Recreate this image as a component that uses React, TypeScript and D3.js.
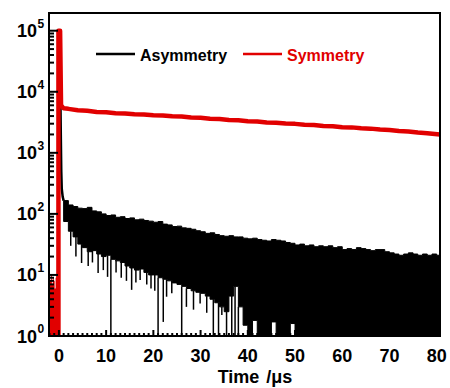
import React, { useEffect, useRef } from "react";
import * as d3 from "d3";

// layout
const width = 450;
const height = 388;
const plot = { left: 49, right: 440, top: 13, bottom: 336 };
const font = "'Liberation Sans', Arial, sans-serif";
const red = "#e10000";

// axes
const xTicks = [0, 10, 20, 30, 40, 50, 60, 70, 80];
const yExponents = [0, 1, 2, 3, 4, 5];

// Symmetry: noise before the pulse, the pulse, then the slow decay
const symPreTime = [-2.1, -1.9, -1.7, -1.5, -1.3, -1.1, -0.9, -0.7, -0.5, -0.3, -0.1];
const symPreCounts = [5, 8, 10, 7, 9, 8, 6, 9, 10, 8, 8];
const symPeakTime = [-0.1, -0.1, 0.25, 0.45];
const symPeakCounts = [1, 100000, 100000, 6000];
const symTime = [
  0.45, 1, 2, 4, 6, 8, 10, 12, 14, 16, 18, 20, 22, 24, 26, 28, 30, 32, 34, 36, 38,
  40, 42, 44, 46, 48, 50, 52, 54, 56, 58, 60, 62, 64, 66, 68, 70, 72, 74, 76, 78, 80.7,
];
const symCounts = [
  6000, 5350, 5250, 4980, 4880, 4680, 4620, 4460, 4400, 4280, 4240, 4130, 4100, 3960,
  3920, 3780, 3740, 3600, 3570, 3440, 3410, 3290, 3270, 3150, 3120, 3010, 2980, 2880,
  2850, 2750, 2730, 2630, 2610, 2520, 2490, 2400, 2360, 2270, 2240, 2150, 2100, 1990,
];

// Asymmetry: fast decay, then per-microsecond envelope of the noisy tail
const asymPeakTime = [-0.15, -0.1, 0.3, 0.4, 0.5, 0.6, 0.8, 1.0];
const asymPeakCounts = [1, 100000, 10000, 2000, 500, 260, 190, 165];
const asymUpper = [
  165, 140, 132, 124, 122, 128, 112, 108, 100, 94,
  96, 88, 90, 84, 86, 80, 82, 78, 76, 73,
  75, 68, 66, 62, 63, 59, 58, 56, 53, 51,
  48, 49, 46, 44, 43, 44, 42, 42, 40, 39,
  40, 38, 37, 36, 38, 37, 36, 34, 33, 31,
  32, 30, 31, 29, 30, 29, 30, 28, 29, 26,
  27, 26, 28, 27, 26, 25, 26, 26, 24, 23,
  22, 21, 22, 23, 22, 21, 22, 21, 22, 21,
];
const asymLower = [
  75, 52, 42, 32, 28, 24, 25, 22, 20, 21,
  18, 17, 16, 14, 13, 12, 12.5, 11, 10, 10,
  9, 8.5, 8, 7.4, 7, 6.5, 6, 5.5, 5.2, 5,
  4.5, 4, 3.5, 3, 2.5, 4.5, 6.5, 3, 1.5, 1,
  1.8, 1, 1, 1, 1.7, 1, 1, 1, 1.6, 1,
  1, 1, 1, 1, 1, 1, 1, 1, 1, 1,
  1, 1, 1, 1, 1, 1, 1, 1, 1, 1,
  1, 1, 1, 1, 1, 1, 1, 1, 1, 1,
];
const asymDipTime = [
  2.5, 3.6, 4.8, 6.2, 7.1, 8.3, 9.4, 10.3, 11.0, 12.1, 13.2, 14.3, 15.4, 16.3, 17.2,
  18.6, 19.5, 20.3, 21.0, 22.1, 22.8, 23.9, 26.0, 27.0, 28.5, 29.9, 31.3, 32.7, 33.8,
  34.5, 35.5, 36.6, 37.3, 38.0,
];
const asymDipCounts = [
  30, 20, 15.7, 14, 16, 10.8, 12, 9.3, 1, 11, 9, 8, 5.7, 7.5, 8.3,
  7, 6, 5.5, 1, 1.7, 4.4, 5, 1, 3, 2.7, 3.4, 2.4, 1, 1,
  2.2, 1, 1, 1, 1,
];

const App = () => {
  const ref = useRef<SVGSVGElement>(null);

  useEffect(() => {
    const svg = d3.select(ref.current);
    svg.selectAll("*").remove();

    const x = d3.scaleLinear().domain([-2.1, 80.7]).range([plot.left, plot.right]);
    const y = d3
      .scaleLog()
      .domain([1, Math.pow(10, 5.29)])
      .range([plot.bottom, plot.top]);

    svg
      .append("clipPath")
      .attr("id", "plotClip")
      .append("rect")
      .attr("x", plot.left)
      .attr("y", plot.top)
      .attr("width", plot.right - plot.left)
      .attr("height", plot.bottom - plot.top);

    const g = svg.append("g").attr("clip-path", "url(#plotClip)");

    // Asymmetry tail band (bins start at t = 1, 2, ..., 80)
    const n = asymUpper.length;
    const binIdx = d3.range(n + 1);
    const at = (i: number) => Math.min(i, n - 1);
    const band = d3
      .area<number>()
      .x((i) => x(i + 1))
      .y0((i) => y(asymLower[at(i)]))
      .y1((i) => y(asymUpper[at(i)]))
      .curve(d3.curveStepAfter);
    g.append("path")
      .attr("d", band(binIdx))
      .attr("fill", "#000")
      .attr("stroke", "#000")
      .attr("stroke-width", 1);

    // downward spikes
    g.selectAll("line.dip")
      .data(asymDipTime)
      .join("line")
      .attr("class", "dip")
      .attr("x1", (t) => x(t))
      .attr("x2", (t) => x(t))
      .attr("y1", (t) => y(asymLower[Math.floor(t) - 1]))
      .attr("y2", (_, i) => y(asymDipCounts[i]))
      .attr("stroke", "#000")
      .attr("stroke-width", 1.5);

    const line = d3
      .line<[number, number]>()
      .x((d) => x(d[0]))
      .y((d) => y(d[1]));

    g.append("path")
      .attr("d", line(asymPeakTime.map((t, i) => [t, asymPeakCounts[i]])))
      .attr("fill", "none")
      .attr("stroke", "#000")
      .attr("stroke-width", 2.5);

    // Symmetry
    const preArea = d3
      .area<number>()
      .x((i) => x(symPreTime[i]))
      .y0(y(1))
      .y1((i) => y(symPreCounts[i]))
      .curve(d3.curveStepAfter);
    g.append("path")
      .attr("d", preArea(d3.range(symPreTime.length)))
      .attr("fill", red);

    const symPts: [number, number][] = [
      ...symPeakTime.map((t, i) => [t, symPeakCounts[i]] as [number, number]),
      ...symTime.map((t, i) => [t, symCounts[i]] as [number, number]),
    ];
    g.append("path")
      .attr("d", line(symPts))
      .attr("fill", "none")
      .attr("stroke", red)
      .attr("stroke-width", 4.5)
      .attr("stroke-linejoin", "round");

    // ticks (inward)
    const ticks = svg.append("g").attr("stroke", "#000").attr("stroke-width", 2);
    d3.range(-2, 81).forEach((t) => {
      const major = t % 10 === 0;
      ticks
        .append("line")
        .attr("x1", x(t))
        .attr("x2", x(t))
        .attr("y1", plot.bottom)
        .attr("y2", plot.bottom - (major ? 6 : 3));
    });
    yExponents.forEach((e) => {
      const v = Math.pow(10, e);
      ticks
        .append("line")
        .attr("x1", plot.left)
        .attr("x2", plot.left + 9)
        .attr("y1", y(v))
        .attr("y2", y(v));
      if (e < 5) {
        d3.range(2, 10).forEach((m) => {
          ticks
            .append("line")
            .attr("x1", plot.left)
            .attr("x2", plot.left + 5)
            .attr("y1", y(m * v))
            .attr("y2", y(m * v));
        });
      }
    });

    // frame
    svg
      .append("rect")
      .attr("x", plot.left)
      .attr("y", plot.top)
      .attr("width", plot.right - plot.left)
      .attr("height", plot.bottom - plot.top)
      .attr("fill", "none")
      .attr("stroke", "#000")
      .attr("stroke-width", 2);

    // x labels
    svg
      .append("g")
      .selectAll("text")
      .data(xTicks)
      .join("text")
      .attr("x", (t) => x(t))
      .attr("y", 362)
      .attr("text-anchor", "middle")
      .attr("font-family", font)
      .attr("font-weight", "bold")
      .attr("font-size", 18)
      .text((t) => t);

    // y labels 10^e
    const yl = svg
      .append("g")
      .attr("font-family", font)
      .attr("font-weight", "bold");
    yExponents.forEach((e) => {
      const yy = y(Math.pow(10, e));
      yl.append("text")
        .attr("x", 37)
        .attr("y", yy + 6.5)
        .attr("text-anchor", "end")
        .attr("font-size", 18)
        .text("10");
      yl.append("text")
        .attr("x", 37.5)
        .attr("y", yy - 3)
        .attr("font-size", 12)
        .text(e);
    });

    // axis title
    const title = svg
      .append("text")
      .attr("x", 255)
      .attr("y", 383)
      .attr("text-anchor", "middle")
      .attr("font-family", font)
      .attr("font-weight", "bold")
      .attr("font-size", 18);
    title.append("tspan").text("Time");
    title.append("tspan").attr("dx", 7).text("/μs");

    // legend
    const legend = svg.append("g").attr("font-family", font).attr("font-weight", "bold");
    legend
      .append("line")
      .attr("x1", 96)
      .attr("x2", 135)
      .attr("y1", 54)
      .attr("y2", 54)
      .attr("stroke", "#000")
      .attr("stroke-width", 2.5);
    legend
      .append("text")
      .attr("x", 140)
      .attr("y", 60.5)
      .attr("font-size", 16)
      .attr("fill", "#000")
      .text("Asymmetry");
    legend
      .append("line")
      .attr("x1", 243)
      .attr("x2", 282)
      .attr("y1", 54)
      .attr("y2", 54)
      .attr("stroke", red)
      .attr("stroke-width", 2.5);
    legend
      .append("text")
      .attr("x", 287)
      .attr("y", 60.5)
      .attr("font-size", 16)
      .attr("fill", red)
      .text("Symmetry");
  }, []);

  return (
    <svg
      ref={ref}
      width={width}
      height={height}
      style={{ position: "absolute", left: 0, top: 0, background: "#fff" }}
    />
  );
};

export default App;
